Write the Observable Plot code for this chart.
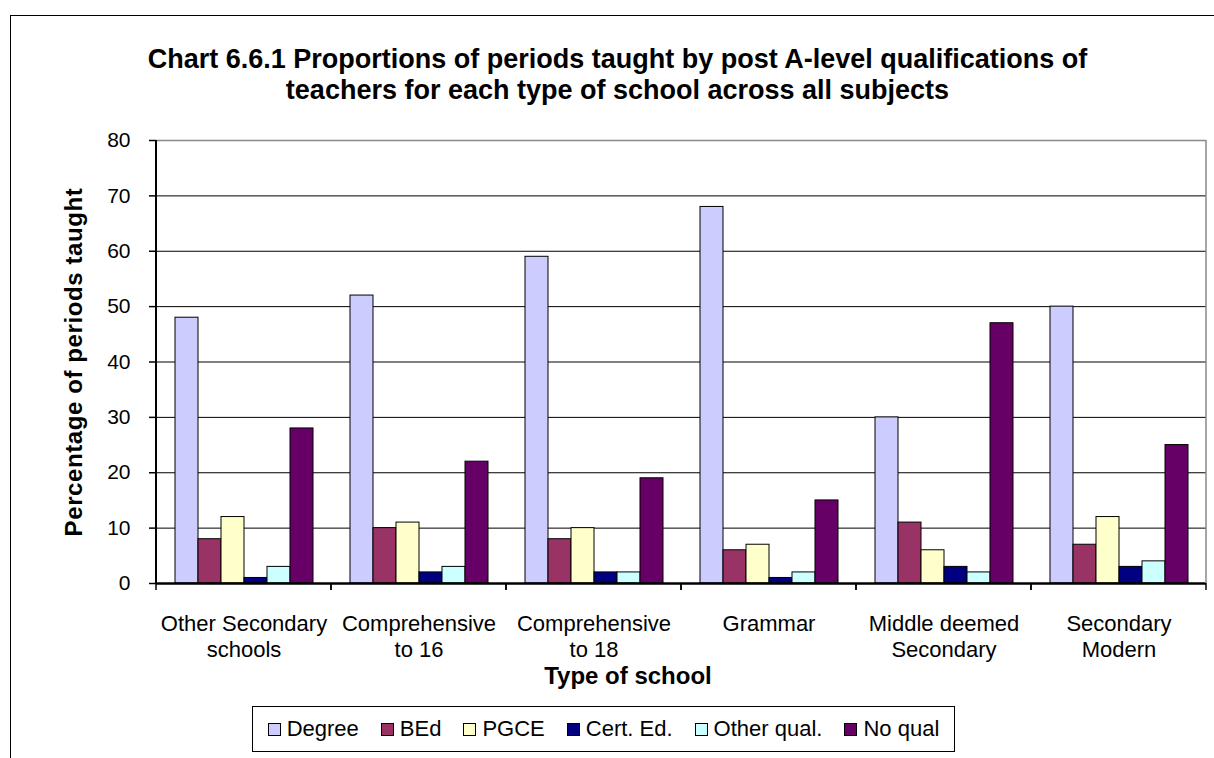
<!DOCTYPE html>
<html><head><meta charset="utf-8">
<script src="https://cdn.jsdelivr.net/npm/d3@7"></script>
<script src="https://cdn.jsdelivr.net/npm/@observablehq/plot@0.6"></script>
<style>
body{margin:0;background:#fff;font-family:"Liberation Sans",Arial,sans-serif;color:#000;}
#page{position:relative;width:1214px;height:758px;overflow:hidden;}
#border{position:absolute;left:10px;top:15px;width:1230px;height:780px;border:1.5px solid #000;}
#title{position:absolute;left:10px;width:1215px;top:44px;text-align:center;font-weight:bold;font-size:27px;line-height:31px;}
#chart{position:absolute;left:0;top:110px;}
#xtitle{position:absolute;left:428px;width:400px;top:662px;text-align:center;font-weight:bold;font-size:24px;line-height:28px;}
#legend{position:absolute;left:252px;top:706px;width:701px;height:44px;border:1.5px solid #000;display:flex;align-items:center;justify-content:center;gap:22px;font-size:22px;}
.item{display:flex;align-items:center;gap:6px;}
.sw{width:11px;height:11px;border:1px solid #000;}
g[aria-label="y-axis label"] text, g[aria-label="y-axis label"]{font-size:24px;font-weight:bold;letter-spacing:0.6px;}
</style></head>
<body>
<div id="page">
  <div id="border"></div>
  <div id="title">Chart 6.6.1 Proportions of periods taught by post A-level qualifications of<br>teachers for each type of school across all subjects</div>
  <div id="chart"></div>
  <div id="xtitle">Type of school</div>
  <div id="legend"></div>
</div>
<script>
const schools = ["Other Secondary schools", "Comprehensive to 16", "Comprehensive to 18", "Grammar", "Middle deemed Secondary", "Secondary Modern"];
const schoolLabels = ["Other Secondary\nschools", "Comprehensive\nto 16", "Comprehensive\nto 18", "Grammar", "Middle deemed\nSecondary", "Secondary\nModern"];
const quals = ["Degree", "BEd", "PGCE", "Cert. Ed.", "Other qual.", "No qual"];
const qualColors = ["#CCCCFF", "#993366", "#FFFFCC", "#000080", "#CCFFFF", "#660066"];
const degree = [48, 52, 59, 68, 30, 50];
const bed    = [8, 10, 8, 6, 11, 7];
const pgce   = [12, 11, 10, 7, 6, 12];
const cert   = [1, 2, 2, 1, 3, 3];
const other  = [3, 3, 2, 2, 2, 4];
const noqual = [28, 22, 19, 15, 47, 25];
const yTicks = [0, 10, 20, 30, 40, 50, 60, 70, 80];

const series = [degree, bed, pgce, cert, other, noqual];
const data = schools.flatMap((s, i) => quals.map((q, j) => ({school: s, qual: q, value: series[j][i]})));
const yMax = yTicks[yTicks.length - 1];

// short tick marks below the category axis, at each category boundary
function boundaryTicks(index, scales, values, dimensions) {
  const {marginLeft, marginRight, width} = dimensions;
  const y0 = scales.y(0);
  const g = d3.create("svg:g").attr("aria-label", "category ticks");
  for (const x of [marginLeft, width - marginRight]) {
    g.append("line").attr("x1", x).attr("x2", x).attr("y1", y0).attr("y2", y0 + 7)
      .attr("stroke", "#000").attr("stroke-width", 1.5);
  }
  return g.node();
}

// vertical edge of the plot area, drawn only in the facet named by its data
class EdgeLine extends Plot.Mark {
  constructor(data, options = {}) {
    const {side = "left", color = "#000", lineWidth = 2, ...rest} = options;
    super(data, {}, rest, {ariaLabel: "edge"});
    this.side = side; this.color = color; this.lineWidth = lineWidth;
  }
  render(index, scales, channels, dimensions) {
    const g = d3.create("svg:g").attr("aria-label", "edge");
    if (!index || index.length === 0) return g.node();
    const {marginLeft, marginRight, width} = dimensions;
    const x = this.side === "left" ? marginLeft : width - marginRight;
    g.append("line").attr("x1", x).attr("x2", x)
      .attr("y1", scales.y(yMax)).attr("y2", scales.y(0))
      .attr("stroke", this.color).attr("stroke-width", this.lineWidth);
    return g.node();
  }
}

const plot = Plot.plot({
  width: 1214, height: 590,
  marginTop: 30, marginBottom: 117, marginLeft: 153, marginRight: 6,
  style: {fontFamily: '"Liberation Sans", Arial, sans-serif', fontSize: "22px", color: "#000", background: "transparent", overflow: "visible"},
  fx: {domain: schools, padding: 0, axis: null},
  x: {domain: quals, paddingInner: 0, paddingOuter: 0.745, axis: null},
  y: {domain: [0, yMax], axis: null},
  color: {domain: quals, range: qualColors},
  marks: [
    Plot.ruleY(yTicks.filter(v => v > 0 && v < yMax), {stroke: "#000", strokeWidth: 1}),
    Plot.ruleY([yMax], {stroke: "#888", strokeWidth: 1.5}),
    Plot.barY(data, {fx: "school", x: "qual", y: "value", fill: "qual", stroke: "#000", strokeWidth: 1}),
    Plot.ruleY([0], {stroke: "#000", strokeWidth: 2.5}),
    new EdgeLine([schools[0]], {fx: d => d, side: "left", color: "#000", lineWidth: 2}),
    new EdgeLine([schools[schools.length - 1]], {fx: d => d, side: "right", color: "#888", lineWidth: 1.5}),
    boundaryTicks,
    Plot.axisY({ticks: yTicks, tickSize: 7, tickPadding: 19, fontSize: 21, stroke: "#000", strokeWidth: 1.5,
      label: "Percentage of periods taught", labelAnchor: "center", labelArrow: "none", labelOffset: 92}),
    Plot.axisFx({anchor: "bottom", tickSize: 0, tickPadding: 29, fontSize: 22, lineHeight: 1.18,
      tickFormat: s => schoolLabels[schools.indexOf(s)], label: null})
  ]
});
document.getElementById("chart").appendChild(plot);

const legend = document.getElementById("legend");
quals.forEach((q, i) => {
  const it = document.createElement("div");
  it.className = "item";
  const sw = document.createElement("div");
  sw.className = "sw";
  sw.style.background = qualColors[i];
  const t = document.createElement("span");
  t.textContent = q;
  it.appendChild(sw); it.appendChild(t);
  legend.appendChild(it);
});
</script>
</body></html>
